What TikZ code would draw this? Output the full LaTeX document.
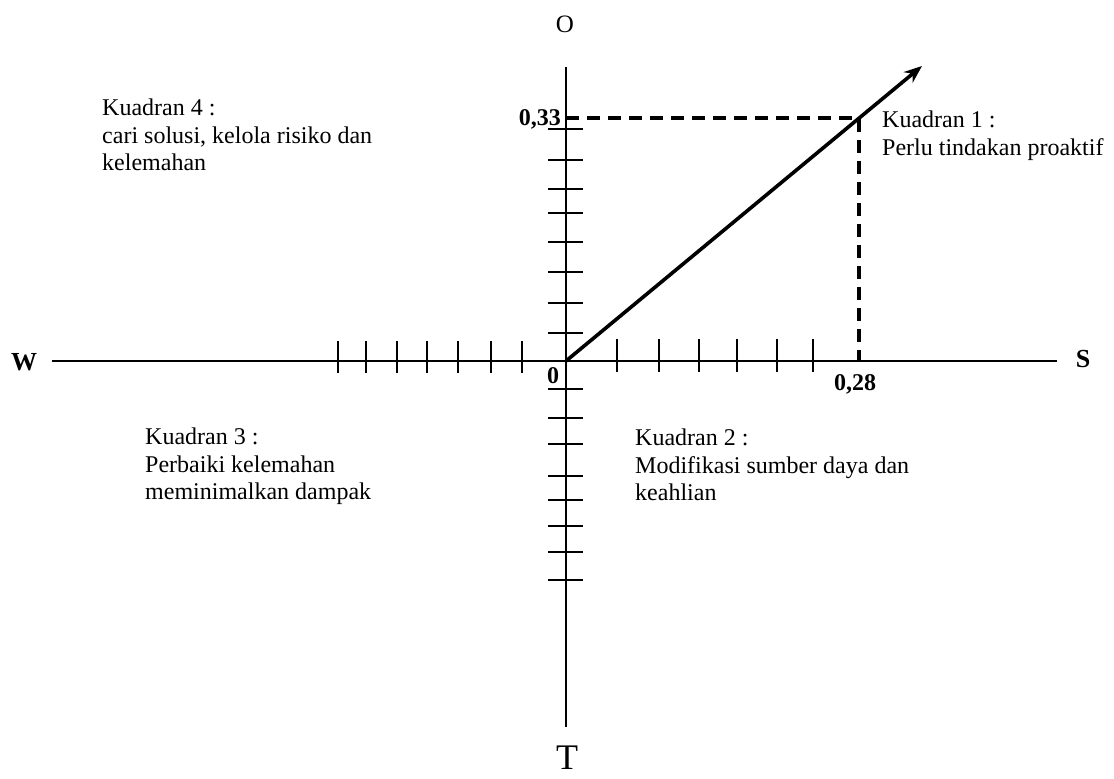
\documentclass[tikz,border=0pt]{standalone}
\usepackage{fontspec}
\setmainfont{Liberation Serif}
\usetikzlibrary{arrows.meta}
\begin{document}
\begin{tikzpicture}[x=1pt,y=-1pt,
  axisline/.style={line width=1.6pt},
  tickmark/.style={line width=1.6pt},
  guide/.style={line width=3.4pt, dash pattern=on 13pt off 8pt},
  vec/.style={line width=3.6pt,-{Stealth[length=18pt,width=14pt]}},
  quad/.style={font=\fontsize{24}{27.5}\selectfont, align=left, anchor=north west, inner sep=0pt},
  num/.style={font=\bfseries\fontsize{24}{27}\selectfont, inner sep=0pt},
  dirlbl/.style={font=\bfseries\fontsize{26}{28}\selectfont, inner sep=0pt}
]
\useasboundingbox (0,0) rectangle (1114,779);
% key coordinates
\coordinate (o) at (566,361);
\coordinate (wend) at (52,361);
\coordinate (send) at (1057,361);
\coordinate (oend) at (566,67);
\coordinate (tend) at (566,727);
\coordinate (p33) at (566,118);
\coordinate (corner) at (859,118);
\coordinate (p28) at (859,361);
\coordinate (tip) at (922,66);
% axes
\draw[axisline] (wend) -- (send);
\draw[axisline] (oend) -- (tend);
% ticks
\foreach \x in {338,366,397,427,458,491,522}
  \draw[tickmark] (\x,341) -- (\x,373);
\foreach \x in {617,659,699,737,777,813}
  \draw[tickmark] (\x,339) -- (\x,372);
\foreach \y in {129,160,189,213,242,272,303,333,389,418,444,476,500,526,552,580}
  \draw[tickmark] (548,\y) -- (583,\y);
% dashed guides
\draw[guide] (p33) -- (corner) -- (p28);
% vector
\draw[vec] (o) -- (tip);
% axis labels
\node[dirlbl] (W) at (24,362) {W};
\node[dirlbl] (S) at (1083,359) {S};
\node[font=\fontsize{25}{27}\selectfont, inner sep=0pt] (O) at (565,24) {O};
\node[font=\fontsize{36}{38}\selectfont, inner sep=0pt, anchor=base] (T) at (567,769) {T};
% values
\node[num, anchor=base east] (v33) at (561,125) {0,33};
\node[num, anchor=base] (v28) at (855,390) {0,28};
\node[num, anchor=base] (v0) at (553,383) {0};
% quadrant texts
\node[quad] (k4) at (102,99) {Kuadran 4 :\\cari solusi, kelola risiko dan\\kelemahan};
\node[quad] (k1) at (882,111) {Kuadran 1 :\\Perlu tindakan proaktif};
\node[quad] (k3) at (145,428) {Kuadran 3 :\\Perbaiki kelemahan\\meminimalkan dampak};
\node[quad] (k2) at (635,429) {Kuadran 2 :\\Modifikasi sumber daya dan\\keahlian};
\end{tikzpicture}
\end{document}
